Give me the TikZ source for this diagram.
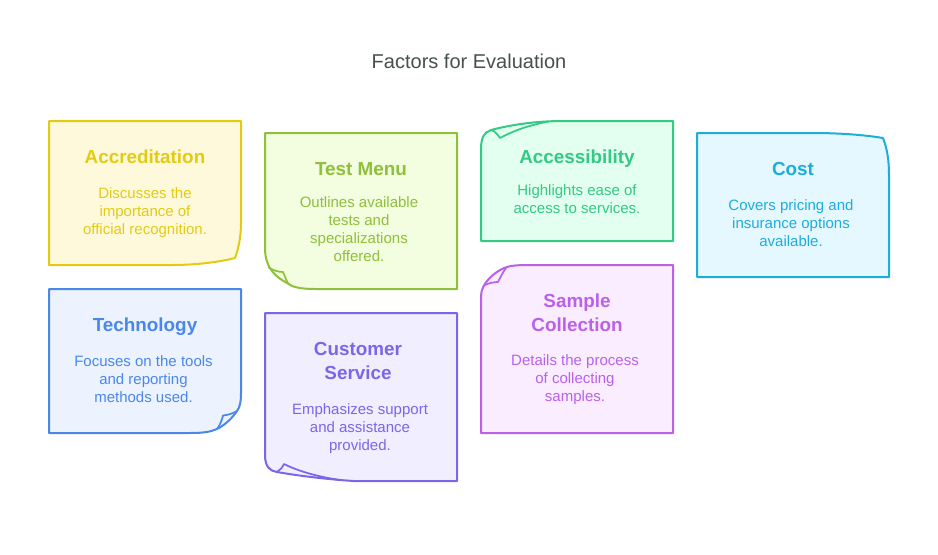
\documentclass[tikz,border=0pt]{standalone}
\usepackage{fontspec}
\setmainfont{Liberation Sans}
\definecolor{cY}{HTML}{E3CB14}\definecolor{fY}{HTML}{FEF9DB}
\definecolor{cL}{HTML}{8FBF3C}\definecolor{fL}{HTML}{F3FDDF}
\definecolor{cM}{HTML}{34C985}\definecolor{fM}{HTML}{E2FFF0}
\definecolor{cC}{HTML}{1EADDB}\definecolor{fC}{HTML}{E6F8FF}
\definecolor{cB}{HTML}{4B87E8}\definecolor{fB}{HTML}{ECF3FF}
\definecolor{cP}{HTML}{7B66E8}\definecolor{fP}{HTML}{F1EFFF}
\definecolor{cG}{HTML}{B961E8}\definecolor{fG}{HTML}{FAEDFF}
\definecolor{titlecol}{HTML}{46514C}
\tikzset{
  x=0.75pt,y=-0.75pt,
  sheet/.style={draw=#1,line width=1.5pt,line join=round},
  fold/.style={draw=#1,line width=1.3pt,line join=round,fill=none},
  headtxt/.style={text=#1,font=\fontsize{14.15}{18}\selectfont\bfseries,align=center,inner sep=0pt},
  bodytxt/.style={text=#1,font=\fontsize{11.25}{13.5}\selectfont,align=center,inner sep=0pt},
  titletxt/.style={text=titlecol,font=\fontsize{15}{18}\selectfont,inner sep=0pt},
}
\begin{document}
\begin{tikzpicture}
\useasboundingbox[fill=white] (0,0) rectangle (938,554);
\node[titletxt] (title) at (469,61) {Factors for Evaluation};

% Accreditation
\draw[sheet=cY,fill=fY] (49,121) -- (241,121) -- (241,223) .. controls (241,238) and (238,250) .. (235,258) .. controls (220,262) and (195,265) .. (173,265) -- (49,265) -- cycle;
\node[headtxt=cY] (accH) at (145,157) {Accreditation};
\node[bodytxt=cY] (accB) at (145,212.5) {Discusses the\\importance of\\official recognition.};

% Test Menu
\draw[sheet=cL,fill=fL] (265,133) -- (457,133) -- (457,289) -- (315,289) .. controls (300,289) and (292,287) .. (287,283) .. controls (278,278) and (265,270) .. (265,248) -- cycle;
\draw[fold=cL] (268,267) .. controls (272,270) and (278,272) .. (283,272) .. controls (285,276) and (286,280) .. (288,283);
\node[headtxt=cL] (menuH) at (361,169) {Test Menu};
\node[bodytxt=cL] (menuB) at (359,229) {Outlines available\\tests and\\specializations\\offered.};

% Accessibility
\draw[sheet=cM,fill=fM] (481,149) .. controls (481,138) and (484,132) .. (491,130) .. controls (510,125) and (535,121) .. (563,121) -- (673,121) -- (673,241) -- (481,241) -- cycle;
\draw[fold=cM] (491,130) .. controls (495,131) and (498,135) .. (500,138) .. controls (515,130) and (530,125) .. (549,121.5);
\node[headtxt=cM] (accessH) at (577,158.5) {Accessibility};
\node[bodytxt=cM] (accessB) at (577,199) {Highlights ease of\\access to services.};

% Cost
\draw[sheet=cC,fill=fC] (697,133) -- (813,133) .. controls (840,133) and (865,135) .. (883,138) .. controls (887,148) and (889,160) .. (889,175) -- (889,277) -- (697,277) -- cycle;
\node[headtxt=cC] (costH) at (793,169) {Cost};
\node[bodytxt=cC] (costB) at (791,223) {Covers pricing and\\insurance options\\available.};

% Technology
\draw[sheet=cB,fill=fB] (49,289) -- (241,289) -- (241,393) .. controls (241,402) and (240,407) .. (237,411) .. controls (231,420) and (223,426) .. (217,429) .. controls (210,432) and (203,433) .. (190,433) -- (49,433) -- cycle;
\draw[fold=cB] (237,411) .. controls (232,414) and (227,415) .. (223,415.5) .. controls (222,420) and (220,425) .. (217,429);
\node[headtxt=cB] (techH) at (145,326.5) {Technology};
\node[bodytxt=cB] (techB) at (143.5,379) {Focuses on the tools\\and reporting\\methods used.};

% Customer Service
\draw[sheet=cP,fill=fP] (265,313) -- (457,313) -- (457,481) -- (353,481) .. controls (325,479) and (300,476) .. (277,472) .. controls (270,471) and (265,467) .. (265,455) -- cycle;
\draw[fold=cP] (277,472) .. controls (280,470) and (282,468) .. (284,464) .. controls (300,472) and (320,477) .. (340,480);
\node[headtxt=cP] (custH) at (358,360.5) {Customer\\Service};
\node[bodytxt=cP] (custB) at (360,428.5) {Emphasizes support\\and assistance\\provided.};

% Sample Collection
\draw[sheet=cG,fill=fG] (481,305) -- (481,296) .. controls (481,284) and (493,273) .. (504,268) .. controls (510,265.5) and (517,265) .. (530,265) -- (673,265) -- (673,433) -- (481,433) -- cycle;
\draw[fold=cG] (485,285) .. controls (489,283) and (494,282) .. (498,282) .. controls (500,278) and (503,272) .. (506,268);
\node[headtxt=cG] (sampH) at (577,313) {Sample\\Collection};
\node[bodytxt=cG] (sampB) at (575,379.5) {Details the process\\of collecting\\samples.};
\end{tikzpicture}
\end{document}
